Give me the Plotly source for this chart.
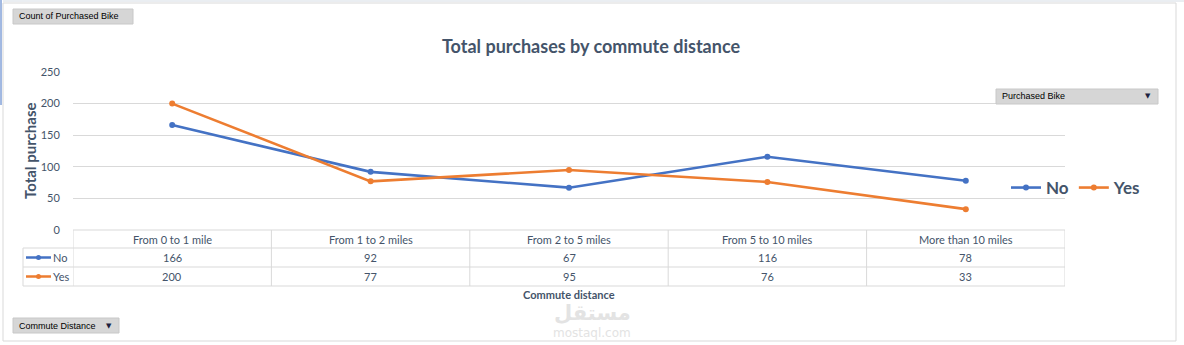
import plotly.graph_objects as go

W, H = 1184, 345

categories = ["From 0 to 1 mile", "From 1 to 2 miles", "From 2 to 5 miles",
              "From 5 to 10 miles", "More than 10 miles"]
no_values = [166, 92, 67, 116, 78]
yes_values = [200, 77, 95, 76, 33]
series_names = ["No", "Yes"]
y_ticks = [0, 50, 100, 150, 200, 250]

BLUE = "#4472C4"
ORANGE = "#ED7D31"
TXT = "#44546A"
GRID = "#D9D9D9"
FONT = "Lato"


def px(x):
    return x / W


def py(y):
    return 1 - y / H


x_idx = list(range(len(categories)))

fig = go.Figure()
for name, vals, col in [(series_names[0], no_values, BLUE), (series_names[1], yes_values, ORANGE)]:
    fig.add_trace(go.Scatter(
        x=x_idx, y=vals, name=name, mode="lines+markers",
        line=dict(color=col, width=2.6),
        marker=dict(color=col, size=6, symbol="circle"),
    ))

shapes = []
ann = []


def text(x, y, s, size=11, color=TXT, xref="paper", xanchor="center", family=FONT, **kw):
    ann.append(dict(x=x, y=y, xref=xref, yref="paper", text=s, showarrow=False,
                    xanchor=xanchor, yanchor="middle",
                    font=dict(family=family, size=size, color=color), **kw))


# outer chart border
shapes.append(dict(type="rect", xref="paper", yref="paper", x0=px(3), x1=px(1176), y0=py(341), y1=py(3),
                   line=dict(color="#D9D9D9", width=1)))
shapes.append(dict(type="line", xref="paper", yref="paper", x0=px(3), x1=px(1184), y0=py(1), y1=py(1),
                   line=dict(color="#D5DCE4", width=1)))
shapes.append(dict(type="line", xref="paper", yref="paper", x0=px(1), x1=px(1), y0=py(0), y1=py(105),
                   line=dict(color="#4472C4", width=1)))

# data table grid
n = len(categories)
row_y = [230, 248, 267, 286]
for i, y in enumerate(row_y):
    shapes.append(dict(type="line", xref="x" if i == 0 else "paper", yref="paper",
                       x0=-0.5 if i == 0 else px(23), x1=n - 0.5 if i == 0 else px(1065),
                       y0=py(y), y1=py(y), line=dict(color=GRID, width=1)))
for k in range(n + 1):
    shapes.append(dict(type="line", xref="x", yref="paper", x0=k - 0.5, x1=k - 0.5,
                       y0=py(230), y1=py(286), line=dict(color=GRID, width=1)))
shapes.append(dict(type="line", xref="paper", yref="paper", x0=px(23), x1=px(23),
                   y0=py(248), y1=py(286), line=dict(color=GRID, width=1)))

# table text
for i, c in enumerate(categories):
    text(i, py(239), c, xref="x")
    text(i, py(257.5), str(no_values[i]), xref="x")
    text(i, py(276.5), str(yes_values[i]), xref="x")

# legend keys in table
for name, col, yy in [(series_names[0], BLUE, 257.5), (series_names[1], ORANGE, 276.5)]:
    shapes.append(dict(type="line", xref="paper", yref="paper", x0=px(26), x1=px(51), y0=py(yy), y1=py(yy),
                       line=dict(color=col, width=2.5)))
    shapes.append(dict(type="circle", xref="paper", yref="paper", x0=px(36), x1=px(41), y0=py(yy + 2.5),
                       y1=py(yy - 2.5), fillcolor=col, line=dict(color=col, width=0)))
    text(px(51), py(yy), name, xanchor="left")

text((n - 1) / 2, py(294), "<b>Commute distance</b>", xref="x")


# buttons
def button(x0, x1, y0, y1, label, arrow):
    shapes.append(dict(type="rect", xref="paper", yref="paper", x0=px(x0), x1=px(x1), y0=py(y1), y1=py(y0),
                       fillcolor="#D6D6D6", line=dict(color="#C8C8C8", width=1)))
    text(px(x0 + 4), py((y0 + y1) / 2), label, size=9, color="#000000", xanchor="left",
         family="Liberation Sans")
    if arrow:
        text(px(x1 - 5), py((y0 + y1) / 2), "▼", size=7, color="#1F1F3F", xanchor="right",
             family="DejaVu Sans")


button(13, 133, 9, 24, "Count of Purchased Bike", False)
button(996, 1158, 89, 104, "Purchased Bike", True)
button(13, 119, 318, 333, "Commute Distance", True)

# watermark
text(px(592), py(313), "<b>مستقل</b>", size=21, color="#E3E3E3", family="DejaVu Sans")
text(px(592), py(333), "mostaql.com", size=12, color="#E3E3E3", family="DejaVu Sans")

# y axis title
text(px(30), py(151), "<b>Total purchase</b>", size=15, textangle=-90)

fig.update_layout(
    width=W, height=H,
    margin=dict(l=0, r=0, t=0, b=0, pad=0, autoexpand=False),
    paper_bgcolor="white", plot_bgcolor="white",
    title=dict(text="<b>Total purchases by commute distance</b>", x=px(591), xanchor="center",
               y=py(47), yanchor="middle", automargin=False,
               font=dict(family=FONT, size=18, color=TXT)),
    xaxis=dict(domain=[px(73), px(1065)], range=[-0.5, n - 0.5], showticklabels=False,
               showgrid=False, zeroline=False, showline=False, ticks="", fixedrange=True,
               automargin=False),
    yaxis=dict(domain=[py(230), py(72)], range=[0, 250], tickvals=y_ticks, showgrid=True,
               gridcolor=GRID, gridwidth=1, zeroline=False, showline=False, ticks="outside",
               ticklen=10, tickcolor="white", automargin=False,
               tickfont=dict(family=FONT, size=11, color=TXT)),
    legend=dict(orientation="h", x=px(1006), y=py(188), xanchor="left", yanchor="middle",
                font=dict(family=FONT, size=17, color=TXT, weight="bold"), bgcolor="rgba(0,0,0,0)",
                itemwidth=30, tracegroupgap=0),
    shapes=shapes, annotations=ann, showlegend=True,
)

fig.write_html("out.html", post_script="document.body.style.margin='0';document.body.style.overflow='hidden';")
